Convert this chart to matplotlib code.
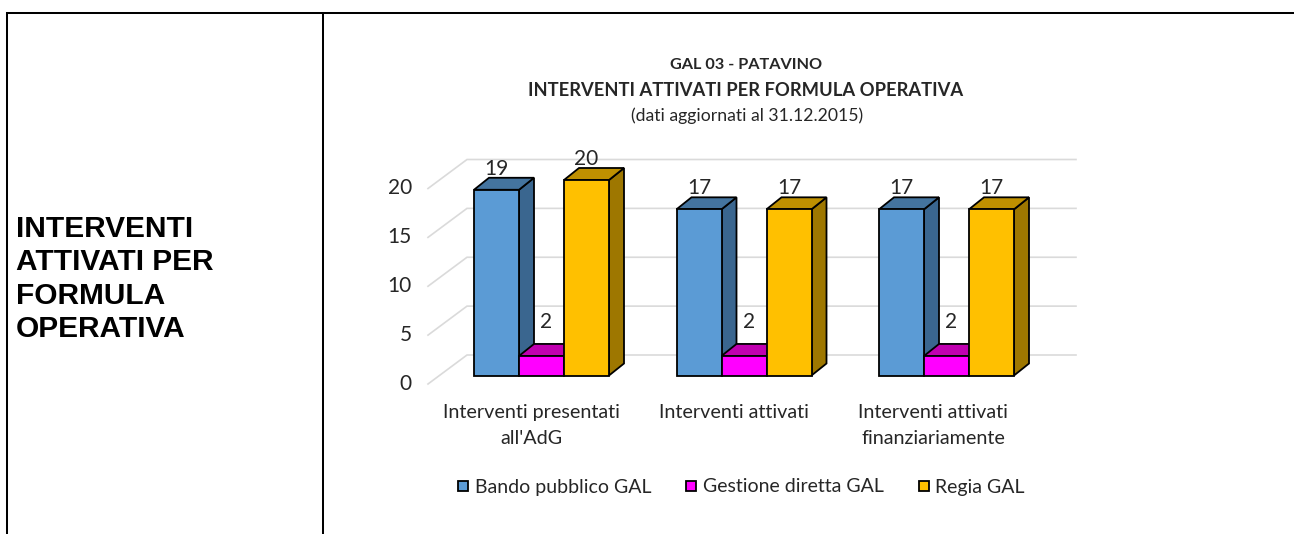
import matplotlib
matplotlib.use('Agg')
import matplotlib.pyplot as plt
from matplotlib.lines import Line2D
from matplotlib.patches import Polygon

# dati
categories = ["Interventi presentati\nall'AdG", "Interventi attivati",
              "Interventi attivati\nfinanziariamente"]
series_names = ['Bando pubblico GAL', 'Gestione diretta GAL', 'Regia GAL']
bando = [19, 17, 17]
gestione = [2, 2, 2]
regia = [20, 17, 17]
y_ticks = [0, 5, 10, 15, 20]
title_lines = ['GAL 03 - PATAVINO', 'INTERVENTI ATTIVATI PER FORMULA OPERATIVA']
subtitle = '(dati aggiornati al 31.12.2015)'
left_text = 'INTERVENTI\nATTIVATI PER\nFORMULA\nOPERATIVA'

# colori: fronte, lato, sopra
colors = [('#5B9BD5', '#3A668F', '#44749F'),
          ('#FF00FF', '#A000A0', '#C000B0'),
          ('#FFC000', '#9E7700', '#BF9000')]

W, H = 1294, 534
fig = plt.figure(figsize=(W / 100, H / 100), dpi=100)
fig.patch.set_facecolor('white')

# scala: una categoria = 202.5 px, una unita = 9.775 px
px_x = 1 / 202.5
px_y = 1 / 9.775
x0_px, y0_px = 541.5, 375.5
ax = fig.add_axes([0, 0, 1, 1])
ax.set_xlim(-x0_px * px_x, (W - x0_px) * px_x)
ax.set_ylim((y0_px - H) * px_y, y0_px * px_y)
ax.axis('off')

bar_w = 45 * px_x
depth_x, depth_y = 15 * px_x, 12 * px_y
label_font = 'Lato'

# griglia: parete di fondo e diagonali a sinistra
wall_left = (467 - x0_px) * px_x
wall_right = (1076 - x0_px) * px_x
for t in y_ticks:
    y_back = t + (375.5 - 355) * px_y
    y_front = t - (384 - 375.5) * px_y
    x_front = (428 - x0_px) * px_x
    ax.plot([x_front, wall_left, wall_right], [y_front, y_back, y_back],
            color='#DADADA', lw=1.2, zorder=1, solid_joinstyle='miter')
    ax.text((412 - x0_px) * px_x, y_front + 0.5 * px_y, str(t), ha='right', va='center',
            fontsize=15, family=label_font, color='#262626')


def bar3d(x, h, cols):
    left, right = x - bar_w / 2, x + bar_w / 2
    side = [(right, 0), (right + depth_x, depth_y), (right + depth_x, h + depth_y), (right, h)]
    top = [(left, h), (left + depth_x, h + depth_y), (right + depth_x, h + depth_y), (right, h)]
    front = [(left, 0), (right, 0), (right, h), (left, h)]
    for pts, c in [(side, cols[1]), (top, cols[2]), (front, cols[0])]:
        ax.add_patch(Polygon(pts, closed=True, facecolor=c, edgecolor='black',
                             lw=1.3, joinstyle='miter', zorder=3))


# barre
for i in range(len(categories)):
    for j, vals in enumerate([bando, gestione, regia]):
        x = i + (j - 1) * bar_w
        bar3d(x, vals[i], colors[j])
        # etichetta del valore: quella piccola sta piu in alto e a destra
        dx = 5 * px_x if j == 1 else 0
        dy = 34 * px_y if j == 1 else 21 * px_y
        ax.text(x + dx, vals[i] + dy, str(vals[i]), ha='center', va='center',
                fontsize=15, family=label_font, color='#262626', zorder=4)

# etichette categorie
label_px = [531.5, 733.5, 933]
for pos, cat in zip(label_px, categories):
    ax.text((pos - x0_px) * px_x, (375.5 - 404) * px_y, cat, ha='center', va='top',
            fontsize=14.2, family=label_font, color='#262626', linespacing=1.65)

# titolo
ax.text((746 - x0_px) * px_x, (375.5 - 65) * px_y, title_lines[0], ha='center', va='center',
        fontsize=11.7, fontweight='bold', family=label_font, color='#262626')
ax.text((746 - x0_px) * px_x, (375.5 - 90.5) * px_y, title_lines[1], ha='center', va='center',
        fontsize=13.2, fontweight='bold', family=label_font, color='#262626')
ax.text((747 - x0_px) * px_x, (375.5 - 115.5) * px_y, subtitle, ha='center', va='center',
        fontsize=12.7, family=label_font, color='#262626')

# legenda
handles = [Line2D([], [], ls='none', marker='s', ms=7.5, mfc=c[0], mec='black', mew=1.3)
           for c in colors]
leg = ax.legend(handles, series_names, ncol=3, frameon=False, loc='center',
                bbox_to_anchor=(741 / W, 1 - 487 / H), handlelength=0.6,
                handletextpad=0.3, columnspacing=1.75, labelcolor='#262626',
                prop={'family': label_font, 'size': 14})

# testo a sinistra
ax.text((16 - x0_px) * px_x, (375.5 - 279) * px_y, left_text, ha='left', va='center',
        fontsize=21.5, fontweight='bold', family='Liberation Sans', color='black',
        linespacing=1.24)

# cornice della tabella
for xs, ys in [((7, W), (13, 13)), ((7, 7), (13, H)), ((323, 323), (13, H))]:
    fig.add_artist(Line2D([x / W for x in xs], [1 - y / H for y in ys], color='black', lw=1.45))

fig.savefig('out.png', dpi=100)
